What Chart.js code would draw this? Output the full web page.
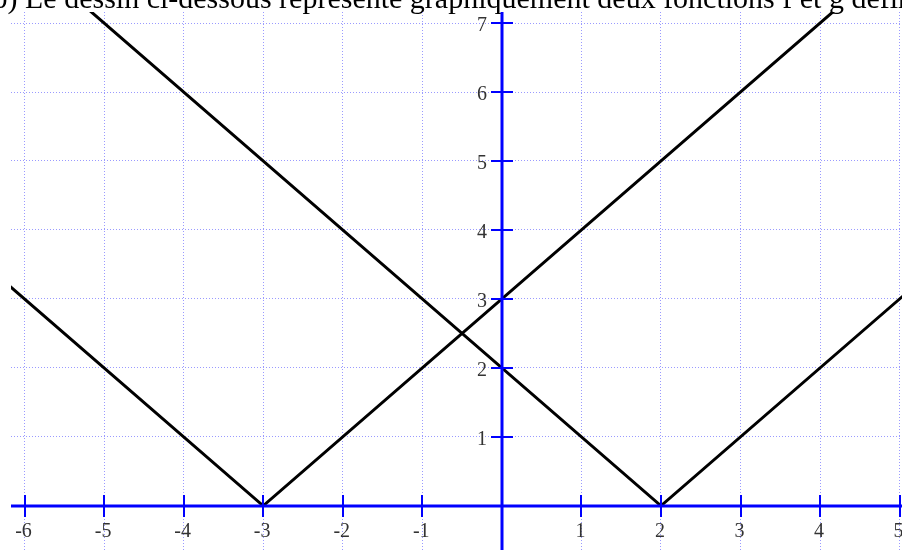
<!DOCTYPE html>
<html>
<head>
<meta charset="utf-8">
<script src="https://cdn.jsdelivr.net/npm/chart.js@4/dist/chart.umd.min.js"></script>
<style>
  html, body { margin: 0; padding: 0; background: #fff; }
  #wrap { width: 902px; height: 550px; position: relative; }
</style>
</head>
<body>
<div id="wrap"><canvas id="c"></canvas></div>
<script>
// f(x) = |x+3| and g(x) = |x-2|, corners
const fX = [-6.2, -3, 4.2];
const fY = [3.2, 0, 7.2];
const gX = [-5.2, 2, 5.1];
const gY = [7.2, 0, 3.1];

const xTicks = [-6, -5, -4, -3, -2, -1, 0, 1, 2, 3, 4, 5];
const yTicks = [0, 1, 2, 3, 4, 5, 6, 7];
const title = "b) Le dessin ci-dessous représente graphiquement deux fonctions f et g définies";

const blue = "#0000ff";
const gridBlue = "#9a9aff";
const labelFont = "20px 'Liberation Serif'";

const toPts = (xs, ys) => xs.map((x, i) => ({ x: x, y: ys[i] }));

// title (cut off at the top), axes through the origin, cross ticks and labels
const extras = {
  id: "extras",
  beforeDraw(chart) {
    const ctx = chart.ctx;
    ctx.save();
    ctx.font = "30px 'Liberation Serif'";
    ctx.fillStyle = "#000";
    ctx.textBaseline = "alphabetic";
    const pre = ctx.measureText("b) ").width;
    ctx.fillText(title, 25 - pre, 8);
    ctx.restore();
  },
  afterDraw(chart) {
    const ctx = chart.ctx;
    const area = chart.chartArea;
    const xs = chart.scales.x, ys = chart.scales.y;
    const x0 = Math.round(xs.getPixelForValue(0)), y0 = Math.round(ys.getPixelForValue(0));
    ctx.save();
    ctx.strokeStyle = blue;
    // axes
    ctx.lineWidth = 3;
    ctx.beginPath();
    ctx.moveTo(area.left, y0);
    ctx.lineTo(area.right, y0);
    ctx.moveTo(x0, area.top);
    ctx.lineTo(x0, area.bottom);
    ctx.stroke();
    // ticks
    ctx.lineWidth = 2;
    ctx.beginPath();
    xTicks.forEach(v => {
      if (v === 0) return;
      const px = Math.round(xs.getPixelForValue(v));
      ctx.moveTo(px, y0 - 11);
      ctx.lineTo(px, y0 + 11);
    });
    yTicks.forEach(v => {
      if (v === 0) return;
      const py = Math.round(ys.getPixelForValue(v));
      ctx.moveTo(x0 - 11, py);
      ctx.lineTo(x0 + 11, py);
    });
    ctx.stroke();
    // labels
    ctx.fillStyle = "#333";
    ctx.font = labelFont;
    ctx.textBaseline = "middle";
    ctx.textAlign = "center";
    xTicks.forEach(v => {
      if (v === 0) return;
      ctx.fillText(String(v), xs.getPixelForValue(v) - 1, y0 + 26);
    });
    ctx.textAlign = "right";
    yTicks.forEach(v => {
      if (v === 0) return;
      ctx.fillText(String(v), x0 - 15, ys.getPixelForValue(v) + 3);
    });
    ctx.restore();
  }
};

const lineStyle = {
  showLine: true,
  borderColor: "#000",
  borderWidth: 3,
  pointRadius: 0,
  tension: 0,
  fill: false
};

const gridScale = (min, max, ticks) => ({
  type: "linear",
  min: min,
  max: max,
  afterBuildTicks: s => { s.ticks = ticks.map(v => ({ value: v })); },
  grid: { color: gridBlue, lineWidth: 1, drawTicks: false },
  border: { display: false, dash: [1, 2] },
  ticks: { display: false }
});

new Chart(document.getElementById("c"), {
  type: "scatter",
  data: {
    datasets: [
      Object.assign({ label: "f", data: toPts(fX, fY) }, lineStyle),
      Object.assign({ label: "g", data: toPts(gX, gY) }, lineStyle)
    ]
  },
  options: {
    responsive: true,
    maintainAspectRatio: false,
    animation: false,
    layout: { padding: { left: 11, top: 12, right: 0, bottom: 0 } },
    plugins: {
      legend: { display: false },
      tooltip: { enabled: false },
      title: { display: false }
    },
    scales: {
      x: gridScale(-6.17, 5.03, xTicks),
      y: gridScale(-0.64, 7.16, yTicks)
    }
  },
  plugins: [extras]
});
</script>
</body>
</html>
